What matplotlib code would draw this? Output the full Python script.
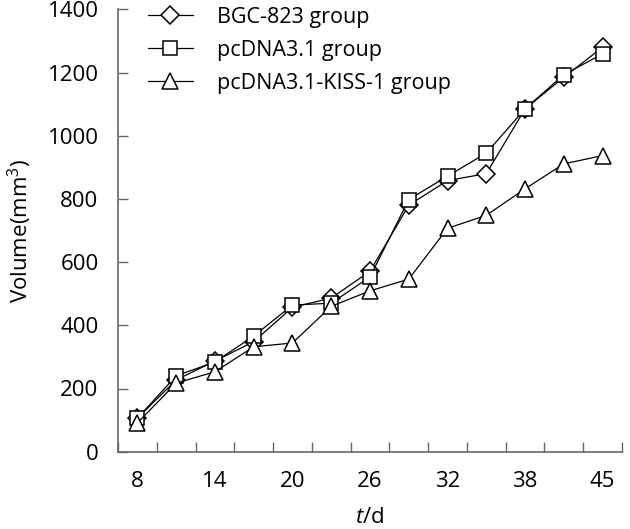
import matplotlib
matplotlib.use("Agg")
import matplotlib.pyplot as plt
import numpy as np

days = ["8", "11", "14", "17", "20", "23", "26", "29", "32", "35", "38", "41", "45"]
bgc823 = [106, 227, 287, 348, 457, 486, 571, 780, 858, 880, 1085, 1185, 1280]
pcdna = [106, 240, 284, 366, 464, 470, 553, 798, 872, 945, 1085, 1193, 1259]
kiss1 = [91, 217, 253, 332, 344, 460, 509, 546, 707, 748, 832, 911, 937]
series_names = ["BGC-823 group", "pcDNA3.1 group", "pcDNA3.1-KISS-1 group"]
yticks = [0, 200, 400, 600, 800, 1000, 1200, 1400]

plt.rcParams['font.family'] = ['Open Sans', 'DejaVu Sans']
plt.rcParams['mathtext.fontset'] = 'custom'
plt.rcParams['mathtext.rm'] = 'Open Sans'
plt.rcParams['mathtext.it'] = 'Open Sans:italic'
FS = 16

fig = plt.figure(figsize=(6.3, 5.29), dpi=100)
ax = fig.add_axes([118/630, 77.3/529, (622-118)/630, (451.7-9.3)/529])

x = np.arange(len(days))
common = dict(color='black', lw=0.9, markerfacecolor='white', markeredgecolor='black', markeredgewidth=1.1)
ax.plot(x, bgc823, marker='D', markersize=9, label=series_names[0], **common)
ax.plot(x, pcdna, marker='s', markersize=9.5, label=series_names[1], **common)
ax.plot(x, kiss1, marker='^', markersize=11.5, label=series_names[2], **common)

ax.set_xlim(-0.5, len(days) - 0.5)
ax.set_ylim(0, 1400)
ax.set_yticks(yticks)
ax.set_xticks(x[::2])
ax.set_xticklabels(days[::2])
ax.set_xticks(np.arange(-0.5, len(days), 1.0), minor=True)
ax.tick_params(axis='x', which='major', length=0, pad=14, labelsize=FS)
ax.tick_params(axis='x', which='minor', direction='in', length=7, color='#666666', width=1)
ax.tick_params(axis='y', direction='in', length=7.5, color='#666666', width=1, labelsize=FS, pad=14)

for s in ['top', 'right']:
    ax.spines[s].set_visible(False)
for s in ['left', 'bottom']:
    ax.spines[s].set_color('#666666')
    ax.spines[s].set_linewidth(1.2)

ax.set_ylabel("Volume(mm$^3$)", fontsize=FS, labelpad=10)
ax.set_xlabel(r"$\mathit{t}$/d", fontsize=FS, labelpad=11)

leg = ax.legend(loc='upper left', frameon=False, fontsize=15.5, handlelength=2.1,
                handletextpad=1.1, labelspacing=0.55, borderaxespad=0,
                bbox_to_anchor=(0.042, 1.025))

fig.savefig("out.png", dpi=100)
